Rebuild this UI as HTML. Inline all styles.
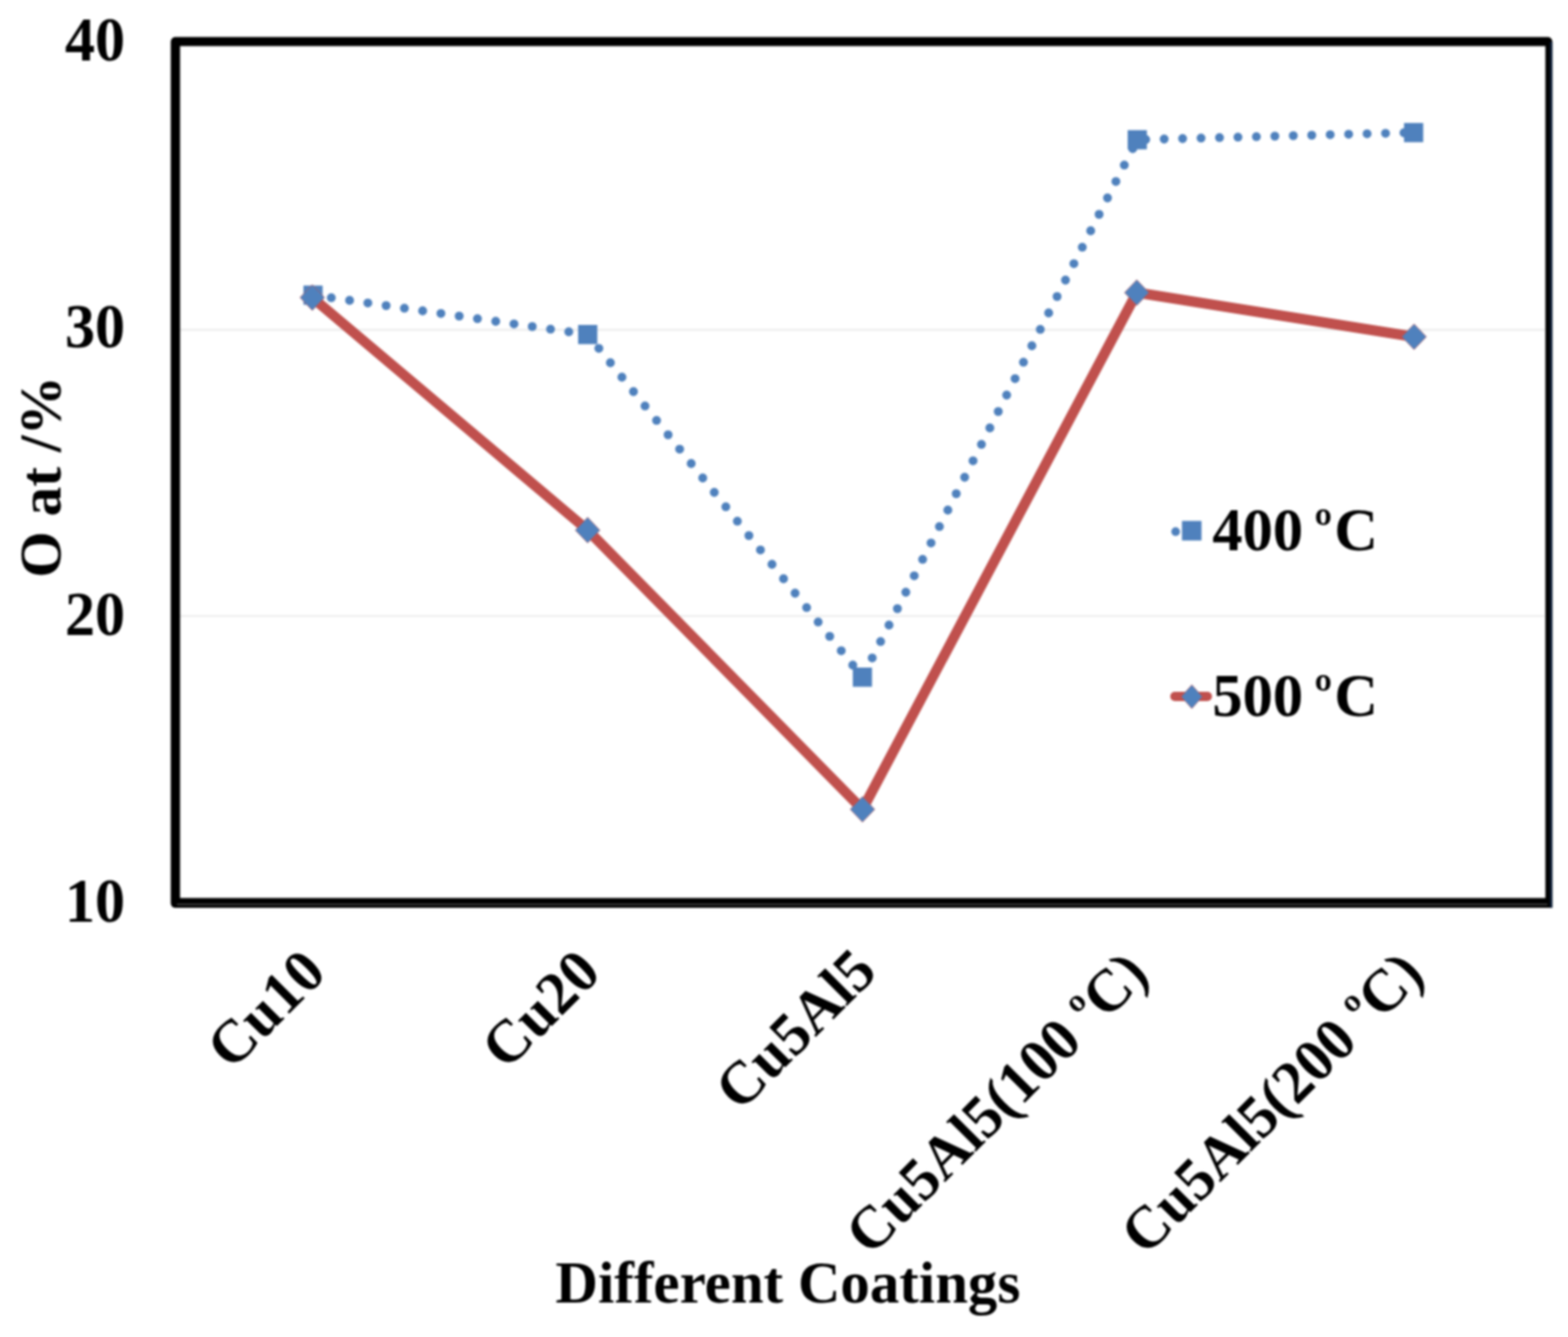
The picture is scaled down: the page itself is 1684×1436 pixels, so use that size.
<!DOCTYPE html>
<html><head><meta charset="utf-8"><title>O at % vs coatings</title>
<style>html,body{margin:0;padding:0;background:#fff;}svg{display:block;filter:blur(0.8px);}</style></head>
<body>
<svg width="1684" height="1436" viewBox="0 0 1684 1436" font-family="'Liberation Serif','Times New Roman',serif" font-weight="bold" fill="#000">
<rect width="1684" height="1436" fill="#fff"/>
<g stroke="#efefef" stroke-width="2.4">
<line x1="193" y1="354.2" x2="1659" y2="354.2"/>
<line x1="193" y1="661.6" x2="1659" y2="661.6"/>
</g>
<path fill="#000" fill-rule="evenodd" d="M188.4 39.8H1662.2A5 5 0 0 1 1667.2 44.8V975.1H188.4A5 5 0 0 1 183.4 970.1V44.8A5 5 0 0 1 188.4 39.8ZM193.4 49.5V964.5H1659.7V49.5Z"/>
<rect x="1664.7" y="45" width="2.5" height="930.1" fill="#0c1f3a"/>
<rect x="190" y="970.6" width="1472" height="1.6" fill="#454545"/>
<polyline points="336.2,317.0 631.2,359.3 926.2,727.3 1221.4,150.1 1518.2,142.4" fill="none" stroke="#4F81BD" stroke-width="9.6" stroke-linecap="round" stroke-linejoin="round" stroke-dasharray="0 19.82"/>
<rect x="325.9" y="306.7" width="20.6" height="20.6" fill="#4F81BD"/>
<rect x="620.9" y="349.0" width="20.6" height="20.6" fill="#4F81BD"/>
<rect x="915.9" y="717.0" width="20.6" height="20.6" fill="#4F81BD"/>
<rect x="1211.1" y="139.8" width="20.6" height="20.6" fill="#4F81BD"/>
<rect x="1507.9" y="132.1" width="20.6" height="20.6" fill="#4F81BD"/>
<polyline points="335.4,319.6 631.1,569.4 926.3,869.3 1220.9,314.3 1518.7,361.7" fill="none" stroke="#C0504D" stroke-width="11" stroke-linecap="round" stroke-linejoin="round"/>
<path d="M335.4 305.8L348.6 319.6L335.4 333.4L322.2 319.6Z" fill="#4F81BD" stroke="#C0504D" stroke-width="1" stroke-opacity="0.6"/>
<path d="M631.1 555.6L644.3 569.4L631.1 583.2L617.9 569.4Z" fill="#4F81BD" stroke="#C0504D" stroke-width="1" stroke-opacity="0.6"/>
<path d="M926.3 855.5L939.5 869.3L926.3 883.1L913.1 869.3Z" fill="#4F81BD" stroke="#C0504D" stroke-width="1" stroke-opacity="0.6"/>
<path d="M1220.9 300.5L1234.1 314.3L1220.9 328.1L1207.7 314.3Z" fill="#4F81BD" stroke="#C0504D" stroke-width="1" stroke-opacity="0.6"/>
<path d="M1518.7 347.9L1531.9 361.7L1518.7 375.5L1505.5 361.7Z" fill="#4F81BD" stroke="#C0504D" stroke-width="1" stroke-opacity="0.6"/>
<g font-size="67" text-anchor="end">
<text transform="translate(134.3,65.2) scale(0.965,1)">40</text>
<text transform="translate(134.3,373.0) scale(0.965,1)">30</text>
<text transform="translate(134.3,681.9) scale(0.965,1)">20</text>
<text transform="translate(134.3,989.7) scale(0.965,1)">10</text>
</g>
<text font-size="64" transform="translate(65,620.6) rotate(-90)">O at /%</text>
<text font-size="64" transform="translate(596.5,1398.5) scale(0.988,1)">Different Coatings</text>
<text font-size="65" text-anchor="end" transform="translate(352.4,1047.1) rotate(-45) scale(0.99,1)">Cu10</text>
<text font-size="65" text-anchor="end" transform="translate(647.5,1047.1) rotate(-45) scale(0.99,1)">Cu20</text>
<text font-size="65" text-anchor="end" transform="translate(943.9,1046) rotate(-45) scale(0.99,1)">Cu5Al5</text>
<text font-size="65" text-anchor="end" transform="translate(1236,1048.9) rotate(-45) scale(0.978,1)">Cu5Al5(100 <tspan font-size="57.0" dx="0" dy="-5.8">º</tspan><tspan dy="5.8">C</tspan>)</text>
<text font-size="65" text-anchor="end" transform="translate(1531.6,1048.9) rotate(-45) scale(0.978,1)">Cu5Al5(200 <tspan font-size="57.0" dx="0" dy="-5.8">º</tspan><tspan dy="5.8">C</tspan>)</text>
<circle cx="1262.6" cy="571.0" r="4.7" fill="#4F81BD"/>
<rect x="1269.4" y="559.5" width="21" height="21" fill="#4F81BD"/>
<line x1="1261.8" y1="748.0" x2="1296.7" y2="748.0" stroke="#C0504D" stroke-width="10" stroke-linecap="round"/>
<path d="M1280.0 735.5L1291.4 748.3L1280.0 761.1L1268.6 748.3Z" fill="#4F81BD" stroke="#C0504D" stroke-width="1" stroke-opacity="0.6"/>
<text font-size="65" x="1302" y="591.2">400 <tspan font-size="57" dx="-4" dy="-5.8">º</tspan><tspan x="1433" y="591.2">C</tspan></text>
<text font-size="65" x="1302" y="768.7">500 <tspan font-size="57" dx="-4" dy="-5.8">º</tspan><tspan x="1433" y="768.7">C</tspan></text>
</svg></body></html>
